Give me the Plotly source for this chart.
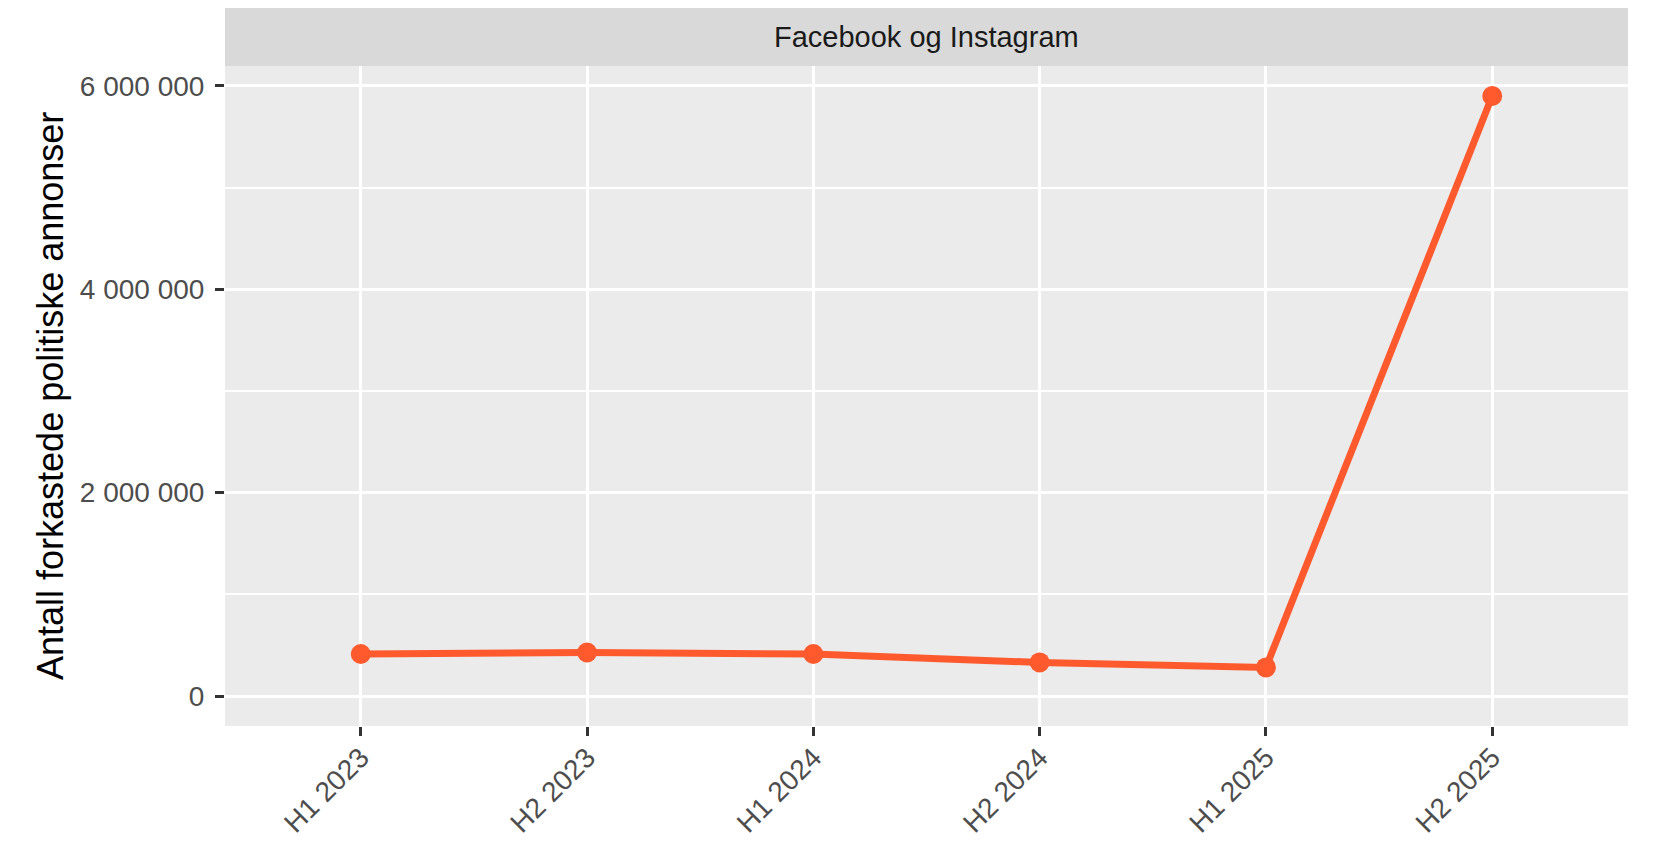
import plotly.graph_objects as go

# Data
periods = ["H1 2023", "H2 2023", "H1 2024", "H2 2024", "H1 2025", "H2 2025"]
rejected_ads = [413000, 428000, 413000, 330000, 281000, 5900000]

y_tick_vals = [0, 2000000, 4000000, 6000000]
y_tick_text = ["0", "2 000 000", "4 000 000", "6 000 000"]

panel_title = "Facebook og Instagram"
y_title = "Antall forkastede politiske annonser"

line_color = "#FF5A2E"
font_family = "Liberation Sans, Arial, sans-serif"

fig = go.Figure()

fig.add_trace(go.Scatter(
    x=periods,
    y=rejected_ads,
    mode="lines+markers",
    line=dict(color=line_color, width=7),
    marker=dict(color=line_color, size=20),
    showlegend=False,
))

# ggplot-like facet strip above the panel
fig.add_shape(
    type="rect", xref="paper", yref="paper",
    x0=0, x1=1, y0=1, y1=1 + 58 / 660,
    fillcolor="#D9D9D9", line=dict(width=0), layer="below",
)
fig.add_annotation(
    text=panel_title, xref="paper", yref="paper",
    x=0.5, y=1 + 29 / 660, xanchor="center", yanchor="middle",
    showarrow=False, font=dict(size=29, color="#1A1A1A", family=font_family),
)

# y axis title placed like ggplot
fig.add_annotation(
    text=y_title, xref="paper", yref="paper",
    x=(50 - 225) / 1403, y=0.5, xanchor="center", yanchor="middle",
    textangle=-90, showarrow=False,
    font=dict(size=36, color="black", family=font_family),
)

fig.update_xaxes(
    type="category",
    range=[-0.6, 5.6],
    automargin=False,
    showgrid=True, gridcolor="white", gridwidth=3,
    ticks="outside", ticklen=9, tickwidth=3, tickcolor="#333333",
    tickangle=-45, ticklabelstandoff=-6,
    tickfont=dict(size=28, color="#4D4D4D", family=font_family),
    showline=False, zeroline=False,
)

fig.update_yaxes(
    range=[-295000, 6195000],
    automargin=False,
    tickvals=y_tick_vals, ticktext=y_tick_text,
    showgrid=True, gridcolor="white", gridwidth=3,
    minor=dict(dtick=1000000, showgrid=True, gridcolor="white", gridwidth=1.5, ticks=""),
    ticks="outside", ticklen=9, tickwidth=3, tickcolor="#333333",
    ticklabelstandoff=5,
    tickfont=dict(size=28, color="#4D4D4D", family=font_family),
    showline=False, zeroline=False,
)

# page body has an 8px margin, so the figure is sized to sit inside it
fig.update_layout(
    width=1648, height=832,
    plot_bgcolor="#EBEBEB",
    paper_bgcolor="white",
    margin=dict(l=217, r=28, t=58, b=114),
    font=dict(family=font_family),
)

fig.write_html("out.html")
